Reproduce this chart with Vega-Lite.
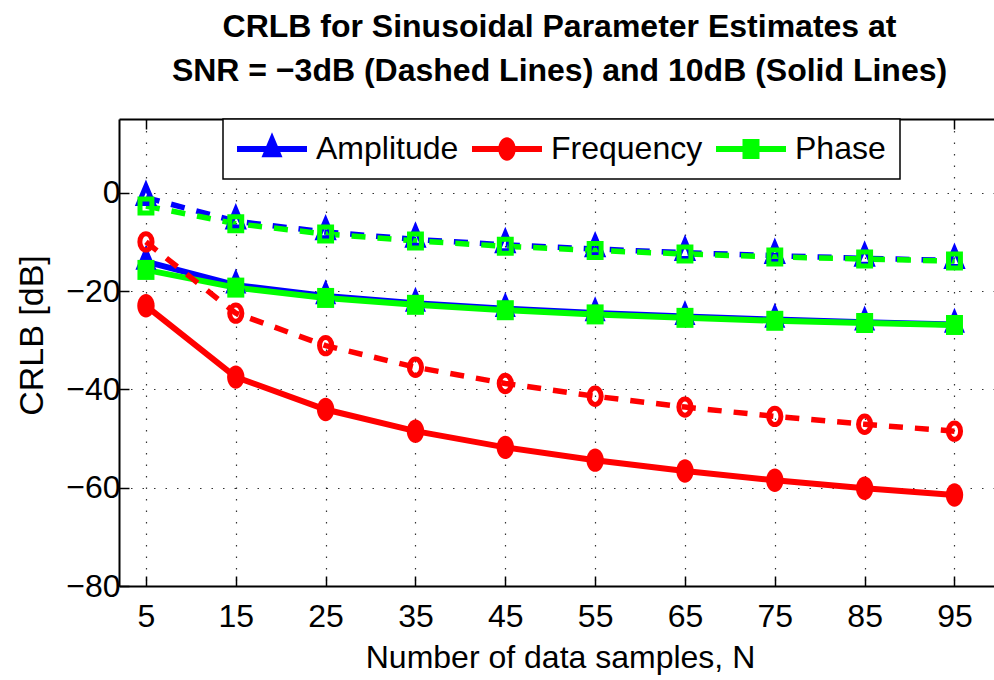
{
  "$schema": "https://vega.github.io/schema/vega-lite/v6.json",
  "width": 875,
  "height": 467,
  "autosize": {"type": "none"},
  "padding": {"left": 119, "top": 119, "right": 0, "bottom": 94},
  "background": "white",
  "title": {
    "text": ["CRLB for Sinusoidal Parameter Estimates at", "SNR = −3dB (Dashed Lines) and 10dB (Solid Lines)"],
    "font": "Liberation Sans",
    "fontSize": 32,
    "fontWeight": "bold",
    "lineHeight": 44,
    "anchor": "middle",
    "frame": "group",
    "offset": 30,
    "dx": 3,
    "color": "black"
  },
  "data": {
    "values": [
      {"N": 5, "series": "Amplitude", "snr": "10 dB", "crlb": -14.0},
      {"N": 15, "series": "Amplitude", "snr": "10 dB", "crlb": -18.8},
      {"N": 25, "series": "Amplitude", "snr": "10 dB", "crlb": -21.0},
      {"N": 35, "series": "Amplitude", "snr": "10 dB", "crlb": -22.5},
      {"N": 45, "series": "Amplitude", "snr": "10 dB", "crlb": -23.6},
      {"N": 55, "series": "Amplitude", "snr": "10 dB", "crlb": -24.45},
      {"N": 65, "series": "Amplitude", "snr": "10 dB", "crlb": -25.2},
      {"N": 75, "series": "Amplitude", "snr": "10 dB", "crlb": -25.8},
      {"N": 85, "series": "Amplitude", "snr": "10 dB", "crlb": -26.35},
      {"N": 95, "series": "Amplitude", "snr": "10 dB", "crlb": -26.8},
      {"N": 5, "series": "Frequency", "snr": "10 dB", "crlb": -23.0},
      {"N": 15, "series": "Frequency", "snr": "10 dB", "crlb": -37.5},
      {"N": 25, "series": "Frequency", "snr": "10 dB", "crlb": -44.1},
      {"N": 35, "series": "Frequency", "snr": "10 dB", "crlb": -48.5},
      {"N": 45, "series": "Frequency", "snr": "10 dB", "crlb": -51.8},
      {"N": 55, "series": "Frequency", "snr": "10 dB", "crlb": -54.4},
      {"N": 65, "series": "Frequency", "snr": "10 dB", "crlb": -56.6},
      {"N": 75, "series": "Frequency", "snr": "10 dB", "crlb": -58.5},
      {"N": 85, "series": "Frequency", "snr": "10 dB", "crlb": -60.1},
      {"N": 95, "series": "Frequency", "snr": "10 dB", "crlb": -61.5},
      {"N": 5, "series": "Phase", "snr": "10 dB", "crlb": -15.7},
      {"N": 15, "series": "Phase", "snr": "10 dB", "crlb": -19.3},
      {"N": 25, "series": "Phase", "snr": "10 dB", "crlb": -21.4},
      {"N": 35, "series": "Phase", "snr": "10 dB", "crlb": -22.8},
      {"N": 45, "series": "Phase", "snr": "10 dB", "crlb": -23.9},
      {"N": 55, "series": "Phase", "snr": "10 dB", "crlb": -24.75},
      {"N": 65, "series": "Phase", "snr": "10 dB", "crlb": -25.45},
      {"N": 75, "series": "Phase", "snr": "10 dB", "crlb": -26.05},
      {"N": 85, "series": "Phase", "snr": "10 dB", "crlb": -26.5},
      {"N": 95, "series": "Phase", "snr": "10 dB", "crlb": -26.9},
      {"N": 5, "series": "Amplitude", "snr": "-3 dB", "crlb": -1.0},
      {"N": 15, "series": "Amplitude", "snr": "-3 dB", "crlb": -5.8},
      {"N": 25, "series": "Amplitude", "snr": "-3 dB", "crlb": -8.0},
      {"N": 35, "series": "Amplitude", "snr": "-3 dB", "crlb": -9.5},
      {"N": 45, "series": "Amplitude", "snr": "-3 dB", "crlb": -10.6},
      {"N": 55, "series": "Amplitude", "snr": "-3 dB", "crlb": -11.45},
      {"N": 65, "series": "Amplitude", "snr": "-3 dB", "crlb": -12.2},
      {"N": 75, "series": "Amplitude", "snr": "-3 dB", "crlb": -12.8},
      {"N": 85, "series": "Amplitude", "snr": "-3 dB", "crlb": -13.35},
      {"N": 95, "series": "Amplitude", "snr": "-3 dB", "crlb": -13.8},
      {"N": 5, "series": "Frequency", "snr": "-3 dB", "crlb": -10.0},
      {"N": 15, "series": "Frequency", "snr": "-3 dB", "crlb": -24.5},
      {"N": 25, "series": "Frequency", "snr": "-3 dB", "crlb": -31.1},
      {"N": 35, "series": "Frequency", "snr": "-3 dB", "crlb": -35.5},
      {"N": 45, "series": "Frequency", "snr": "-3 dB", "crlb": -38.8},
      {"N": 55, "series": "Frequency", "snr": "-3 dB", "crlb": -41.4},
      {"N": 65, "series": "Frequency", "snr": "-3 dB", "crlb": -43.6},
      {"N": 75, "series": "Frequency", "snr": "-3 dB", "crlb": -45.5},
      {"N": 85, "series": "Frequency", "snr": "-3 dB", "crlb": -47.1},
      {"N": 95, "series": "Frequency", "snr": "-3 dB", "crlb": -48.5},
      {"N": 5, "series": "Phase", "snr": "-3 dB", "crlb": -2.7},
      {"N": 15, "series": "Phase", "snr": "-3 dB", "crlb": -6.3},
      {"N": 25, "series": "Phase", "snr": "-3 dB", "crlb": -8.4},
      {"N": 35, "series": "Phase", "snr": "-3 dB", "crlb": -9.8},
      {"N": 45, "series": "Phase", "snr": "-3 dB", "crlb": -10.9},
      {"N": 55, "series": "Phase", "snr": "-3 dB", "crlb": -11.75},
      {"N": 65, "series": "Phase", "snr": "-3 dB", "crlb": -12.45},
      {"N": 75, "series": "Phase", "snr": "-3 dB", "crlb": -13.05},
      {"N": 85, "series": "Phase", "snr": "-3 dB", "crlb": -13.5},
      {"N": 95, "series": "Phase", "snr": "-3 dB", "crlb": -13.9}
    ]
  },
  "resolve": {"axis": {"x": "independent"}},
  "encoding": {
    "y": {"field": "crlb", "type": "quantitative"},
    "color": {"field": "series", "type": "nominal"}
  },
  "layer": [
    {
      "transform": [{"filter": "datum.snr === '10 dB'"}],
      "mark": {"type": "line", "strokeWidth": 6},
      "encoding": {
        "x": {
          "field": "N", "type": "quantitative",
          "scale": {"domain": [2, 99.4], "nice": false, "zero": false},
          "axis": {
            "orient": "bottom",
            "values": [5, 15, 25, 35, 45, 55, 65, 75, 85, 95],
            "title": "Number of data samples, N",
            "titleX": 441, "titleY": 81, "titleBaseline": "alphabetic",
            "labelPadding": 25, "labelFlush": false, "labelOverlap": false,
            "grid": true
          }
        },
        "y": {
          "field": "crlb", "type": "quantitative",
          "scale": {"domain": [-80, 15], "nice": false, "zero": false},
          "axis": {
            "values": [-80, -60, -40, -20, 0],
            "title": "CRLB [dB]",
            "titleX": -87, "titleY": 216, "titleBaseline": "middle", "titleAngle": -90,
            "titleFontSize": 34,
            "labelPadding": 9, "labelOverlap": false, "labelFlush": false,
            "grid": true
          }
        },
        "color": {
          "field": "series", "type": "nominal",
          "scale": {"domain": ["Amplitude", "Frequency", "Phase"], "range": ["#0000ff", "#ff0000", "#00ff00"]},
          "legend": {
            "orient": "none", "legendX": 104, "legendY": 0,
            "direction": "horizontal", "title": null,
            "symbolSize": 400, "symbolOffset": 19, "labelOffset": 28,
            "columnPadding": 13, "padding": 14,
            "fillColor": "white", "strokeColor": "black",
            "labelFont": "Liberation Sans", "labelFontSize": 32, "labelColor": "black", "labelLimit": 400,
            "encode": {
              "symbols": {
                "update": {
                  "shape": {"signal": "datum.value === 'Amplitude' ? 'M-3.5,-0.3L3.5,-0.3L3.5,0.3L-3.5,0.3Z M0,-1.67L1.05,0.83L-1.05,0.83Z' : datum.value === 'Frequency' ? 'M-3.5,-0.3L3.5,-0.3L3.5,0.3L-3.5,0.3Z M0,-1.17A0.87,1.17,0,1,1,0,1.17A0.87,1.17,0,1,1,0,-1.17Z' : 'M-3.5,-0.3L3.5,-0.3L3.5,0.3L-3.5,0.3Z M-0.85,-1L0.85,-1L0.85,1L-0.85,1Z'"},
                  "fill": {"scale": "color", "field": "value"},
                  "stroke": {"value": "transparent"},
                  "strokeWidth": {"value": 0},
                  "strokeDash": {"value": []},
                  "fillOpacity": {"value": 1},
                  "opacity": {"value": 1}
                }
              }
            }
          }
        }
      }
    },
    {
      "transform": [{"filter": "datum.snr === '10 dB' && datum.series === 'Amplitude'"}],
      "mark": {"type": "point", "filled": true, "size": 400, "opacity": 1, "strokeWidth": 0, "shape": "M0,-1.67L1.05,0.83L-1.05,0.83Z"},
      "encoding": {
        "x": {
          "field": "N", "type": "quantitative",
          "axis": {"orient": "top", "values": [5, 15, 25, 35, 45, 55, 65, 75, 85, 95], "labels": false, "title": null, "grid": false}
        }
      }
    },
    {
      "transform": [{"filter": "datum.snr === '10 dB' && datum.series === 'Frequency'"}],
      "mark": {"type": "point", "filled": true, "size": 400, "opacity": 1, "strokeWidth": 0, "shape": "M0,-1.17A0.87,1.17,0,1,1,0,1.17A0.87,1.17,0,1,1,0,-1.17Z"},
      "encoding": {"x": {"field": "N", "type": "quantitative", "axis": null}}
    },
    {
      "transform": [{"filter": "datum.snr === '10 dB' && datum.series === 'Phase'"}],
      "mark": {"type": "point", "filled": true, "size": 400, "opacity": 1, "strokeWidth": 0, "shape": "M-0.85,-1L0.85,-1L0.85,1L-0.85,1Z"},
      "encoding": {"x": {"field": "N", "type": "quantitative", "axis": null}}
    },
    {
      "transform": [{"filter": "datum.snr === '-3 dB'"}],
      "mark": {"type": "line", "strokeWidth": 5.5, "strokeDash": [14, 12]},
      "encoding": {"x": {"field": "N", "type": "quantitative", "axis": null}}
    },
    {
      "transform": [{"filter": "datum.snr === '-3 dB' && datum.series === 'Amplitude'"}],
      "mark": {"type": "point", "filled": false, "size": 196, "opacity": 1, "strokeWidth": 5, "shape": "M0,-1.67L1.05,0.83L-1.05,0.83Z"},
      "encoding": {"x": {"field": "N", "type": "quantitative", "axis": null}}
    },
    {
      "transform": [{"filter": "datum.snr === '-3 dB' && datum.series === 'Frequency'"}],
      "mark": {"type": "point", "filled": false, "size": 196, "opacity": 1, "strokeWidth": 5, "shape": "M0,-1.17A0.87,1.17,0,1,1,0,1.17A0.87,1.17,0,1,1,0,-1.17Z"},
      "encoding": {"x": {"field": "N", "type": "quantitative", "axis": null}}
    },
    {
      "transform": [{"filter": "datum.snr === '-3 dB' && datum.series === 'Phase'"}],
      "mark": {"type": "point", "filled": false, "size": 196, "opacity": 1, "strokeWidth": 5, "shape": "M-0.85,-1L0.85,-1L0.85,1L-0.85,1Z"},
      "encoding": {"x": {"field": "N", "type": "quantitative", "axis": null}}
    }
  ],
  "config": {
    "view": {"stroke": null},
    "axis": {
      "labelFont": "Liberation Sans", "labelFontSize": 32, "labelColor": "black",
      "titleFont": "Liberation Sans", "titleFontSize": 32, "titleFontWeight": "normal", "titleColor": "black",
      "domainColor": "black", "domainWidth": 2,
      "tickColor": "black", "tickWidth": 1.5, "tickSize": -10,
      "gridColor": "black", "gridDash": [1.5, 10], "gridWidth": 1.2, "gridOpacity": 0.8
    },
    "legend": {"strokeWidth": 1.5}
  }
}
